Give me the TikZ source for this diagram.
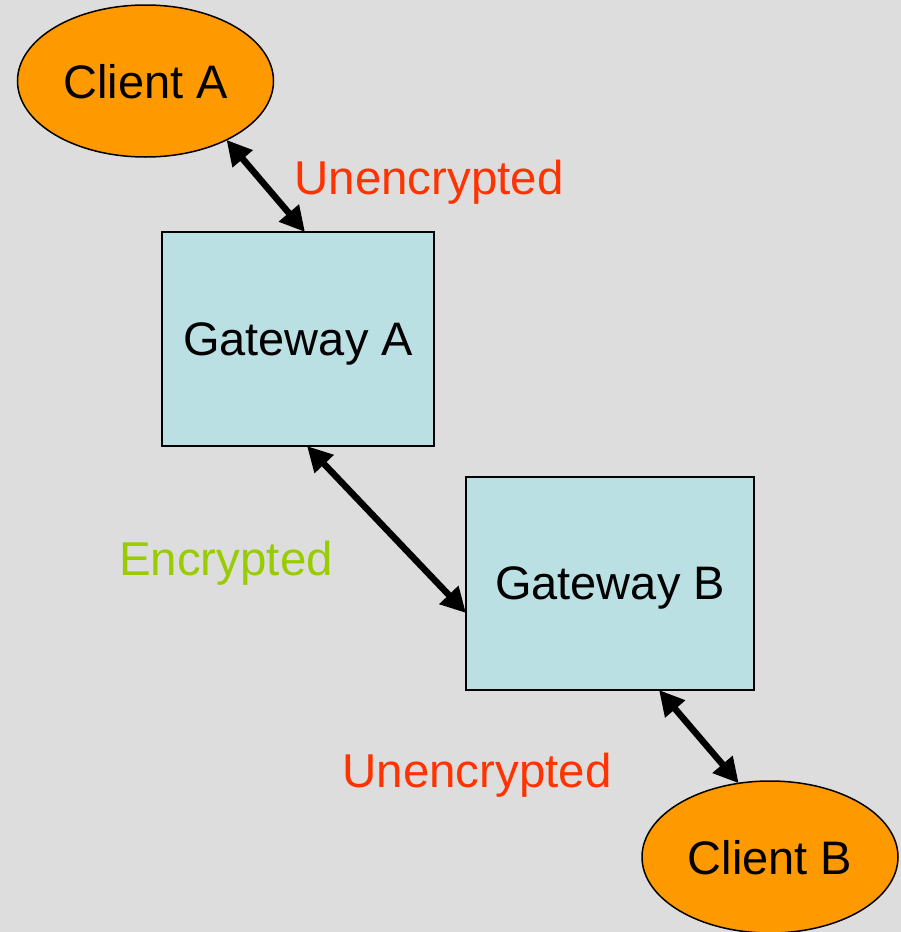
\documentclass[tikz,border=0pt]{standalone}
\usepackage{fontspec}
\setmainfont{Liberation Sans}
\usetikzlibrary{shapes.geometric,arrows.meta}
\definecolor{bgcol}{HTML}{DDDDDD}
\definecolor{clientfill}{HTML}{FF9900}
\definecolor{gatefill}{HTML}{BBE0E3}
\definecolor{plainred}{HTML}{FF3300}
\definecolor{securegreen}{HTML}{99CC00}
\tikzset{
  client/.style={ellipse, draw=black, line width=1.5pt, fill=clientfill,
    minimum width=256pt, minimum height=152pt, inner sep=0pt, outer sep=0pt,
    text depth=0pt, font=\fontsize{47}{56}\selectfont},
  gateway/.style={rectangle, draw=black, line width=2.2pt, fill=gatefill,
    inner sep=0pt, outer sep=0pt, text depth=0pt,
    font=\fontsize{47}{56}\selectfont},
  link/.style={line width=6.5pt, {Triangle[length=25pt,width=25pt]}-{Triangle[length=25pt,width=25pt]}},
  tag/.style={anchor=base, inner sep=0pt, font=\fontsize{47.5}{56}\selectfont}
}
\begin{document}
\begin{tikzpicture}[x=1pt,y=-1pt]
  % canvas
  \fill[bgcol] (0,0) rectangle (901,932);
  \useasboundingbox (0,0) rectangle (901,932);

  % endpoints
  \node[client] (ca) at (145.5,81) {Client A};
  \node[gateway, minimum width=272pt, minimum height=214pt] (ga) at (298,339) {Gateway A};
  \node[gateway, minimum width=288pt, minimum height=213pt] (gb) at (610,583.5) {Gateway B};
  \node[client] (cb) at (770,857) {Client B};

  % link labels
  \node[tag, text=plainred] (u1) at (429,194) {Unencrypted};
  \node[tag, text=securegreen] (enc) at (226,575) {Encrypted};
  \node[tag, text=plainred] (u2) at (477,787) {Unencrypted};

  % links
  \draw[link] (ca.-36) -- ([xshift=143pt]ga.north west);
  \draw[link] ([xshift=145pt]ga.south west) -- ([yshift=-136pt]gb.north west);
  \draw[link] ([xshift=193pt]gb.south west) -- (cb.113.5);
\end{tikzpicture}
\end{document}
